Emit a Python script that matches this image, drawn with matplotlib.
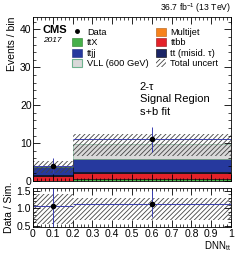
import matplotlib
matplotlib.use("Agg")
import matplotlib.pyplot as plt
import numpy as np
from matplotlib.patches import Patch
from matplotlib.lines import Line2D

plt.rcParams['font.family'] = ['Liberation Sans', 'DejaVu Sans']
plt.rcParams['hatch.linewidth'] = 0.6
plt.rcParams['mathtext.fontset'] = 'custom'
plt.rcParams['mathtext.rm'] = 'Liberation Sans'
plt.rcParams['mathtext.it'] = 'Liberation Sans:italic'

# ---- data ----
bin_edges = [0.0, 0.2, 1.0]
ttX = [0.05, 0.5]
ttbb = [1.15, 1.5]
tt_misid = [0.3, 0.4]
ttjj = [2.2, 3.4]
multijet = [0.0, 0.0]
vll = [0.1, 3.9]
unc_low = [2.2, 6.6]
unc_high = [5.4, 12.4]
data_y = [4.0, 11.0]
data_err_lo = [2.0, 3.4]
data_err_hi = [2.1, 3.2]
ratio_y = [1.05, 1.13]
ratio_err_lo = [0.6, 0.38]
ratio_err_hi = [0.6, 0.4]
ratio_unc_low = [0.56, 0.67]
ratio_unc_high = [1.42, 1.30]

colors = {
    'ttX': '#46b04a', 'ttbb': '#e42229', 'tt_misid': '#1b2566',
    'ttjj': '#26399e', 'multijet': '#f7821b', 'vll': '#d9d9d9',
}

W, H = 241, 257
fig = plt.figure(figsize=(W / 100, H / 100), dpi=100)
ax = fig.add_axes([33 / W, 1 - 181 / H, 198 / W, 164 / H])
rax = fig.add_axes([33 / W, 1 - 227 / H, 198 / W, 39 / H])

edges = np.array(bin_edges)
left = edges[:-1]
width = np.diff(edges)
centers = left + width / 2

stack = [('ttX', ttX), ('ttbb', ttbb), ('tt_misid', tt_misid),
         ('ttjj', ttjj), ('multijet', multijet), ('vll', vll)]
bottom = np.zeros(len(left))
for name, vals in stack:
    vals = np.array(vals)
    ec = '#6fb38f' if name == 'vll' else 'black'
    ax.bar(left, vals, width=width, bottom=bottom, align='edge',
           color=colors[name], edgecolor=ec, linewidth=0.4)
    bottom = bottom + vals

ul = np.array(unc_low)
uh = np.array(unc_high)
ax.bar(left, uh - ul, width=width, bottom=ul, align='edge',
       facecolor='none', edgecolor='#444444', hatch='///////', linewidth=0)

ax.errorbar(centers, data_y, xerr=width / 2, yerr=[data_err_lo, data_err_hi],
            fmt='o', color='black', ecolor='#3b3fb0', elinewidth=0.7,
            markersize=3, capsize=0)

ax.set_xlim(0, 1)
ax.set_ylim(0, 43.3)
ax.set_yticks([0, 10, 20, 30, 40])
ax.set_yticks(np.arange(0, 43.3, 2), minor=True)
ax.set_xticks(np.arange(0, 1.01, 0.1))
ax.set_xticks(np.arange(0, 1.001, 0.02), minor=True)
ax.tick_params(which='both', direction='in', top=True, right=True,
               labelsize=7.5, labelbottom=False, pad=1)
ax.tick_params(which='major', length=5, width=0.6)
ax.tick_params(which='minor', length=2.5, width=0.5)
ax.set_ylabel('Events / bin', fontsize=7.5, loc='top', labelpad=2)
for s in ax.spines.values():
    s.set_linewidth(0.6)

ax.text(0.05, 0.922, 'CMS', transform=ax.transAxes, fontsize=8,
        fontweight='bold', ha='left', va='center')
ax.text(0.05, 0.856, '2017', transform=ax.transAxes, fontsize=6,
        style='italic', ha='left', va='center')
ax.text(1.0, 1.01, r'36.7 fb$^{-1}$ (13 TeV)', transform=ax.transAxes,
        fontsize=6.2, ha='right', va='bottom')

ax.text(0.54, 0.575, '2-τ', transform=ax.transAxes, fontsize=8, ha='left', va='center')
ax.text(0.54, 0.497, 'Signal Region', transform=ax.transAxes, fontsize=8, ha='left', va='center')
ax.text(0.54, 0.418, 's+b fit', transform=ax.transAxes, fontsize=8, ha='left', va='center')

handles = [
    Line2D([], [], marker='o', color='black', markersize=2.5, linestyle='none'),
    Patch(facecolor=colors['ttX'], edgecolor='#2a7a2a', linewidth=0.4),
    Patch(facecolor=colors['ttjj'], edgecolor='#1a2a7a', linewidth=0.4),
    Patch(facecolor=colors['vll'], edgecolor='#6fb38f', linewidth=0.8),
    Patch(facecolor=colors['multijet'], edgecolor='#b05a10', linewidth=0.4),
    Patch(facecolor=colors['ttbb'], edgecolor='#901010', linewidth=0.4),
    Patch(facecolor=colors['tt_misid'], edgecolor='black', linewidth=0.4),
    Patch(facecolor='white', edgecolor='#444444', hatch='///////', linewidth=0),
]
labels = ['Data', 'ttX', 'ttjj', 'VLL (600 GeV)',
          'Multijet', 'ttbb', 'tt (misid. τ)', 'Total uncert']
ax.legend(handles, labels, ncol=2, loc='upper left', bbox_to_anchor=(0.19, 0.945),
          frameon=False, fontsize=6.7, handlelength=1.05, handleheight=0.95,
          handletextpad=0.5, columnspacing=0.8, labelspacing=0.12,
          borderaxespad=0.0, borderpad=0.2)

# ratio
rl = np.array(ratio_unc_low)
rh = np.array(ratio_unc_high)
rax.bar(left, rh - rl, width=width, bottom=rl, align='edge',
        facecolor='none', edgecolor='#444444', hatch='///////', linewidth=0)
rax.errorbar(centers, ratio_y, xerr=width / 2, yerr=[ratio_err_lo, ratio_err_hi],
             fmt='o', color='black', ecolor='#3b3fb0', elinewidth=0.7,
             markersize=3, capsize=0)
rax.set_xlim(0, 1)
rax.set_ylim(0.46, 1.58)
rax.set_yticks([0.5, 1.0, 1.5])
rax.set_yticklabels(['0.5', '1.0', '1.5'])
rax.set_yticks(np.arange(0.5, 1.51, 0.1), minor=True)
rax.set_xticks(np.arange(0, 1.01, 0.1))
rax.set_xticklabels(['0', '0.1', '0.2', '0.3', '0.4', '0.5', '0.6', '0.7',
                     '0.8', '0.9', '1'])
rax.set_xticks(np.arange(0, 1.001, 0.02), minor=True)
rax.tick_params(which='both', direction='in', top=True, right=True,
                labelsize=7.5, pad=1.5)
rax.tick_params(which='major', length=5, width=0.6)
rax.tick_params(which='minor', length=2.5, width=0.5)
rax.set_ylabel('Data / Sim.', fontsize=7.5, labelpad=2)
rax.set_xlabel(r'DNN$_{\rm tt}$', fontsize=7, loc='right', labelpad=0)
for s in rax.spines.values():
    s.set_linewidth(0.6)

fig.savefig('out.png', dpi=100)
